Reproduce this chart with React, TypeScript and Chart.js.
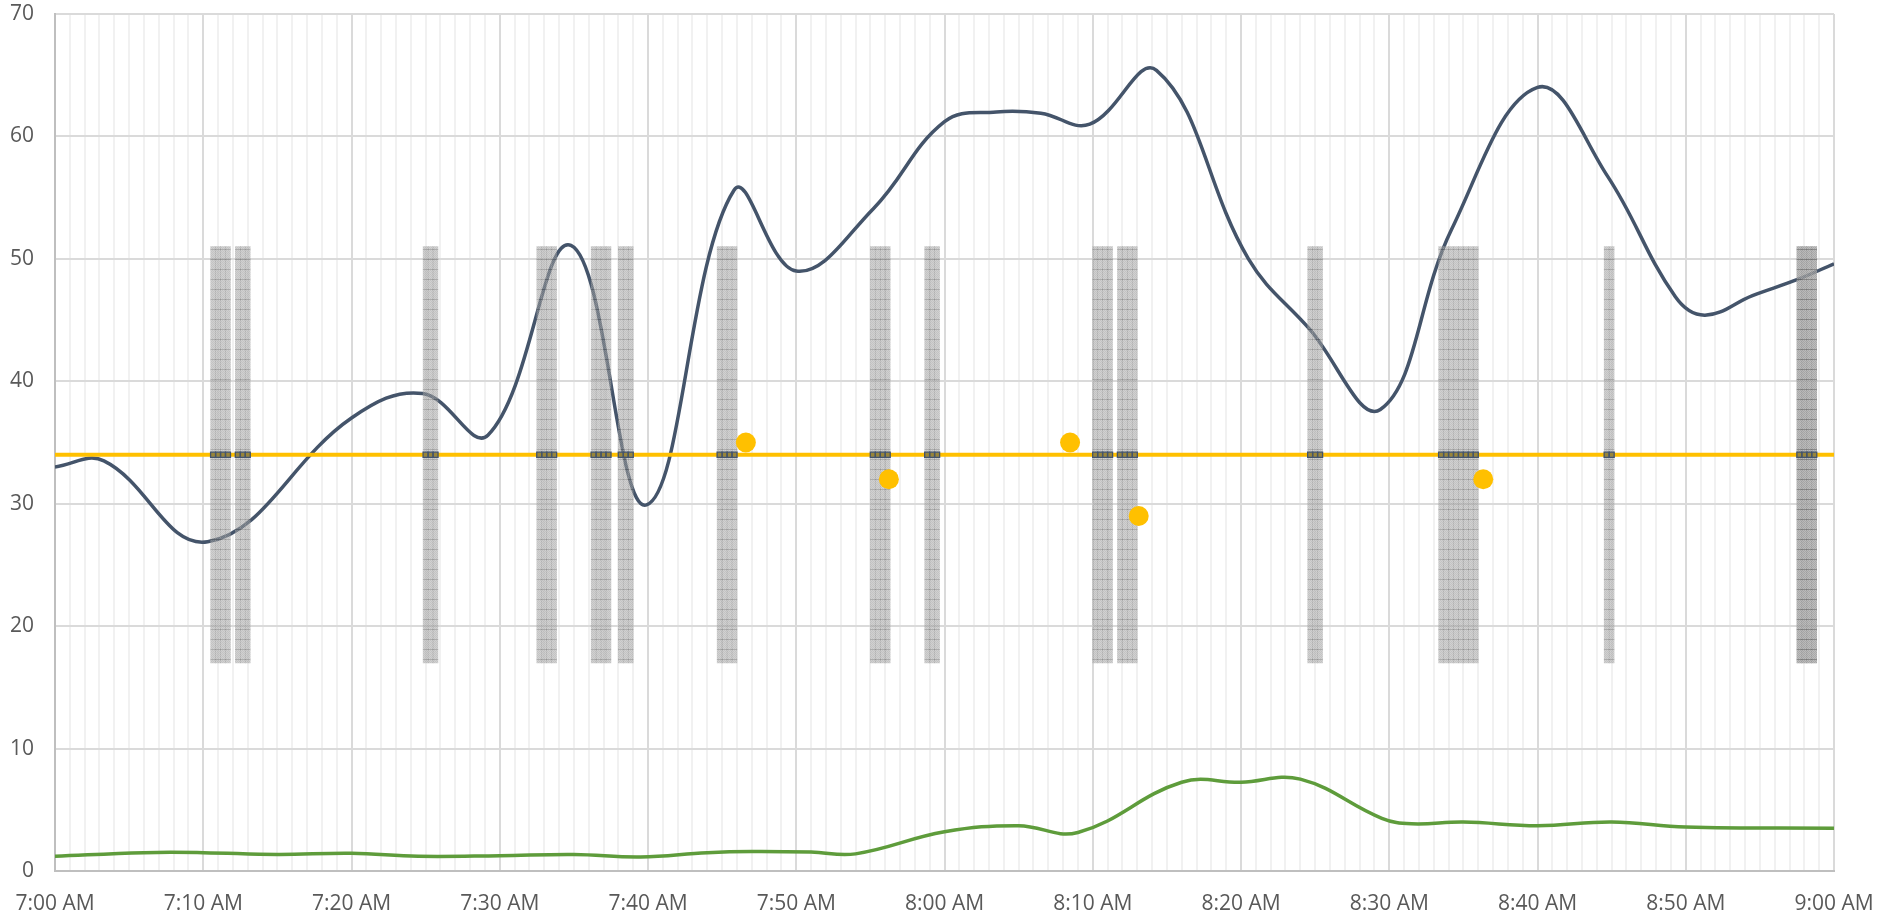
import React, { useEffect, useRef } from 'react';
import { Chart, registerables } from 'chart.js';

Chart.register(...registerables);

// ---- data ----
const xTickLabels = [
  '7:00 AM', '7:10 AM', '7:20 AM', '7:30 AM', '7:40 AM', '7:50 AM', '8:00 AM',
  '8:10 AM', '8:20 AM', '8:30 AM', '8:40 AM', '8:50 AM', '9:00 AM',
];

// navy series: minutes after 7:00 and values
const navyMinutes = [0, 3.3, 10.3, 20.0, 24.8, 29.2, 34.8, 39.9, 45.8, 50.0, 55.2, 60.0, 63.5, 66.5, 69.8, 74.3, 80.5, 84.6, 89.4, 94.2, 100.0, 104.7, 109.3, 111.3, 114.5, 117.5, 120];
const navyValues = [33.0, 33.5, 26.9, 37.0, 39.0, 35.6, 51.1, 29.9, 55.6, 49.0, 54.1, 61.2, 62.0, 61.9, 61.0, 65.4, 50.0, 44.3, 37.7, 52.4, 64.0, 56.8, 46.9, 45.4, 47.0, 48.3, 49.6];

// green series
const greenMinutes = [0, 6, 10, 15, 20, 24.5, 30, 35, 39.5, 44, 47, 51, 54, 60, 65, 69, 76, 80, 84, 89.5, 91.5, 95, 100, 105, 110, 120];
const greenValues = [1.2, 1.5, 1.5, 1.35, 1.45, 1.2, 1.25, 1.35, 1.15, 1.5, 1.6, 1.55, 1.4, 3.2, 3.7, 3.15, 7.25, 7.25, 7.5, 4.3, 3.85, 4.0, 3.7, 4.0, 3.6, 3.5];

// event windows: 20-second slots, seconds after 7:00
const windowSlots = [
  640, 660, 680, 700,
  740, 760, 780,
  1500, 1520, 1540,
  1960, 1980, 2000, 2020,
  2180, 2200, 2220, 2240,
  2290, 2310, 2330,
  2690, 2710, 2730, 2750,
  3310, 3330, 3350, 3370,
  3530, 3550, 3570,
  4210, 4230, 4250, 4270,
  4310, 4330, 4350, 4370,
  5080, 5100, 5120,
  5610, 5630, 5650, 5670, 5690, 5710, 5730, 5750,
  6280, 6300,
  7060, 7080, 7100, 7120,
];
const overlapSlots = [7060, 7080, 7100, 7120];
const windowLow = 17;
const windowHigh = 51;

const thresholdValue = 34;

// yellow dots
const dotMinutes = [46.6, 56.25, 68.47, 73.1, 96.34];
const dotValues = [35, 32, 35, 29, 32];

// ---- helpers ----
function makePattern(): CanvasPattern | string {
  const c = document.createElement('canvas');
  c.width = 2;
  c.height = 10;
  const g = c.getContext('2d');
  if (!g) return 'rgba(150,150,150,0.6)';
  for (let y = 0; y < 10; y++) {
    for (let x = 0; x < 2; x++) {
      if (y === 9) g.fillStyle = 'rgba(105,105,105,0.55)';
      else g.fillStyle = (x + y) % 2 === 0 ? 'rgba(145,145,145,0.55)' : 'rgba(172,172,172,0.55)';
      g.fillRect(x, y, 1, 1);
    }
  }
  return g.createPattern(c, 'repeat') || 'rgba(150,150,150,0.6)';
}

const FONT = { family: "'Open Sans', 'DejaVu Sans', sans-serif", size: 21 };

export default function App() {
  const ref = useRef<HTMLCanvasElement | null>(null);

  useEffect(() => {
    if (!ref.current) return;
    const pattern = makePattern();
    const navy = navyMinutes.map((m, i) => ({ x: m * 60, y: navyValues[i] }));
    const green = greenMinutes.map((m, i) => ({ x: m * 60, y: greenValues[i] }));
    const bars = windowSlots.map((s) => ({ x: s, y: [windowLow, windowHigh] }));
    const overlap = overlapSlots.map((s) => ({ x: s, y: [windowLow, windowHigh] }));
    const markers = windowSlots.map((s) => ({ x: s, y: thresholdValue }));
    const dots = dotMinutes.map((m, i) => ({ x: m * 60, y: dotValues[i] }));
    const threshold = [
      { x: 0, y: thresholdValue },
      { x: 7200, y: thresholdValue },
    ];

    const chart = new Chart(ref.current, {
      type: 'bar',
      data: {
        datasets: [
          {
            type: 'line',
            label: 'Reading',
            data: navy,
            borderColor: '#44546A',
            borderWidth: 3.5,
            pointRadius: 0,
            tension: 0.4,
            order: 6,
          } as any,
          {
            type: 'bar',
            label: 'Window',
            data: bars,
            backgroundColor: pattern,
            borderWidth: 0,
            barPercentage: 1,
            categoryPercentage: 1,
            grouped: false,
            order: 5,
          } as any,
          {
            type: 'bar',
            label: 'Overlap',
            data: overlap,
            backgroundColor: pattern,
            borderWidth: 0,
            barPercentage: 1,
            categoryPercentage: 1,
            grouped: false,
            order: 4,
          } as any,
          {
            type: 'line',
            label: 'Secondary',
            data: green,
            borderColor: '#5E9C3B',
            borderWidth: 3.5,
            pointRadius: 0,
            tension: 0.4,
            order: 3,
          } as any,
          {
            type: 'line',
            label: 'Threshold',
            data: threshold,
            borderColor: '#FFC000',
            borderWidth: 4,
            pointRadius: 0,
            order: 2,
          } as any,
          {
            type: 'scatter',
            label: 'Marks',
            data: markers,
            pointStyle: 'rect',
            pointRadius: 3.6,
            backgroundColor: 'rgba(68,84,106,0.55)',
            borderColor: '#44546A',
            borderWidth: 1.3,
            order: 1,
          } as any,
          {
            type: 'scatter',
            label: 'Samples',
            data: dots,
            pointRadius: 10,
            backgroundColor: '#FFC000',
            borderWidth: 0,
            order: 0,
          } as any,
        ],
      },
      options: {
        animation: false,
        responsive: false,
        maintainAspectRatio: false,
        layout: { padding: { top: 14, right: 68, left: 0, bottom: 0 } },
        plugins: { legend: { display: false }, tooltip: { enabled: false } },
        scales: {
          x: {
            type: 'linear',
            min: 0,
            max: 7200,
            offset: false,
            ticks: {
              stepSize: 60,
              autoSkip: false,
              maxRotation: 0,
              minRotation: 0,
              maxTicksLimit: 1000,
              color: '#595959',
              font: FONT,
              padding: 20,
              callback: (v: any) => {
                const n = Number(v);
                return n % 600 === 0 ? xTickLabels[n / 600] : '';
              },
            },
            grid: {
              offset: false,
              drawTicks: false,
              lineWidth: 2,
              color: (ctx: any) =>
                ctx.tick && ctx.tick.value % 600 === 0 ? '#DADADA' : '#F1F1F1',
            },
            border: { display: true, color: '#BFBFBF', width: 2 },
            afterFit: (s: any) => {
              s.height = 47;
              s.paddingLeft = 0;
              s.paddingRight = 0;
            },
          } as any,
          y: {
            type: 'linear',
            min: 0,
            max: 70,
            ticks: {
              stepSize: 10,
              color: '#595959',
              font: FONT,
              padding: 21,
            },
            grid: { drawTicks: false, lineWidth: 2, color: '#DADADA' },
            border: { display: true, color: '#BFBFBF', width: 2 },
            afterFit: (s: any) => {
              s.width = 55;
              s.paddingTop = 0;
              s.paddingBottom = 0;
            },
          } as any,
        },
      },
    });
    return () => chart.destroy();
  }, []);

  return (
    <div style={{ position: 'absolute', left: 0, top: 0, width: 1902, height: 918 }}>
      <canvas ref={ref} width={1902} height={918} style={{ display: 'block' }} />
    </div>
  );
}
